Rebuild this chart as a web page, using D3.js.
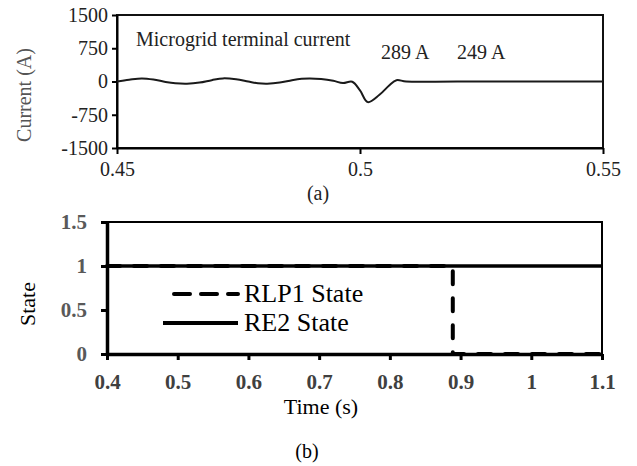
<!DOCTYPE html>
<html>
<head>
<meta charset="utf-8">
<script src="https://cdn.jsdelivr.net/npm/d3@7"></script>
<style>
  body { margin: 0; background: #fff; }
  svg, svg text { font-family: 'Liberation Serif', 'Times New Roman', serif; }
  .axis path, .axis line { stroke: #000; }
</style>
</head>
<body>
<div id="chart"></div>
<script>
// (a) microgrid terminal current
const currentTime = [0.4500, 0.4525, 0.4551, 0.4575, 0.4600, 0.4620, 0.4644, 0.4670, 0.4695, 0.4718,
  0.4745, 0.4770, 0.4790, 0.4809, 0.4835, 0.4860, 0.4880, 0.4897, 0.4920, 0.4945,
  0.4965, 0.4984, 0.5000, 0.5016, 0.5040, 0.5060, 0.5075, 0.5095, 0.5200, 0.5500];
const currentAmps = [0, 40, 70, 45, -10, -40, -50, -25, 30, 70,
  50, 0, -40, -50, -25, 30, 62, 70, 55, 15,
  -35, -5, -200, -465, -300, -90, 30, 0, 0, 0];
const currentTicks = [-1500, -750, 0, 750, 1500];
const currentTimeTicks = [0.45, 0.5, 0.55];
const annotations = ['289 A', '249 A'];

// (b) states
const stateTicks = [0, 0.5, 1, 1.5];
const stateTimeTicks = [0.4, 0.5, 0.6, 0.7, 0.8, 0.9, 1, 1.1];
const rlp1Time = [0.4, 0.889, 0.889, 1.1];
const rlp1State = [1, 1, 0, 0];
const re2Time = [0.4, 1.1];
const re2State = [1, 1];
const legendNames = ['RLP1 State', 'RE2 State'];

const serif = "'Liberation Serif', 'Times New Roman', serif";
const plain = d => String(d);

const svg = d3.select('#chart').append('svg')
  .attr('width', 637)
  .attr('height', 466);

// ---------- top chart ----------
const xA = d3.scaleLinear().domain([0.45, 0.55]).range([117, 603]);
const yA = d3.scaleLinear().domain([-1500, 1500]).range([148, 15]);

svg.append('rect')
  .attr('x', xA(0.45)).attr('y', yA(1500))
  .attr('width', xA(0.55) - xA(0.45)).attr('height', yA(-1500) - yA(1500))
  .attr('fill', 'none').attr('stroke', '#111').attr('stroke-width', 2);

const yAxisA = svg.append('g')
  .attr('class', 'axis')
  .attr('transform', `translate(${xA(0.45)},0)`)
  .call(d3.axisLeft(yA).tickValues(currentTicks).tickFormat(plain).tickSize(5).tickSizeOuter(0).tickPadding(4))
  .attr('font-family', serif).attr('font-size', 20);
yAxisA.selectAll('path, line').attr('stroke-width', 2);
yAxisA.selectAll('text').attr('fill', '#222');

const xAxisA = svg.append('g')
  .attr('class', 'axis')
  .attr('transform', `translate(0,${yA(-1500)})`)
  .call(d3.axisBottom(xA).tickValues(currentTimeTicks).tickFormat(plain).tickSize(6).tickSizeOuter(0).tickPadding(8))
  .attr('font-family', serif).attr('font-size', 20);
xAxisA.selectAll('path, line').attr('stroke-width', 2);
xAxisA.selectAll('text').attr('fill', '#222');

const lineA = d3.line()
  .x((d, i) => xA(currentTime[i]))
  .y(d => yA(d))
  .curve(d3.curveCatmullRom);

svg.append('path')
  .datum(currentAmps)
  .attr('d', lineA)
  .attr('fill', 'none')
  .attr('stroke', '#1a1a1a')
  .attr('stroke-width', 2);

svg.append('text')
  .attr('x', 136).attr('y', 46)
  .attr('font-size', 20).attr('fill', '#222')
  .text('Microgrid terminal current');

svg.selectAll('.note')
  .data(annotations)
  .enter().append('text')
  .attr('class', 'note')
  .attr('x', (d, i) => [381, 457][i]).attr('y', 59)
  .attr('font-size', 20).attr('fill', '#222')
  .text(d => d);

svg.append('text')
  .attr('transform', 'translate(31,95) rotate(-90)')
  .attr('text-anchor', 'middle')
  .attr('font-size', 20).attr('fill', '#555')
  .text('Current (A)');

svg.append('text')
  .attr('x', 318).attr('y', 200)
  .attr('text-anchor', 'middle')
  .attr('font-size', 20).attr('fill', '#222')
  .text('(a)');

// ---------- bottom chart ----------
const xB = d3.scaleLinear().domain([0.4, 1.1]).range([107, 602]);
const yB = d3.scaleLinear().domain([0, 1.5]).range([354, 222]);

svg.append('rect')
  .attr('x', xB(0.4)).attr('y', yB(1.5))
  .attr('width', xB(1.1) - xB(0.4)).attr('height', yB(0) - yB(1.5))
  .attr('fill', 'none').attr('stroke', '#000').attr('stroke-width', 2);

const lineB = d3.line().x(d => xB(d[0])).y(d => yB(d[1]));

svg.append('path')
  .datum(re2Time.map((t, i) => [t, re2State[i]]))
  .attr('d', lineB)
  .attr('fill', 'none').attr('stroke', '#000').attr('stroke-width', 3.5);

svg.append('path')
  .datum(rlp1Time.map((t, i) => [t, rlp1State[i]]))
  .attr('d', lineB)
  .attr('fill', 'none').attr('stroke', '#000').attr('stroke-width', 4)
  .attr('stroke-linecap', 'round')
  .attr('stroke-dasharray', '13,14');

const yAxisB = svg.append('g')
  .attr('class', 'axis')
  .attr('transform', `translate(${xB(0.4)},0)`)
  .call(d3.axisLeft(yB).tickValues(stateTicks).tickFormat(plain).tickSize(6).tickSizeOuter(0).tickPadding(14))
  .attr('font-family', serif).attr('font-size', 21).attr('font-weight', 'bold');
yAxisB.select('path').attr('stroke-width', 3.5);
yAxisB.selectAll('line').attr('stroke-width', 3);
yAxisB.selectAll('text').attr('fill', '#595959');

const xAxisB = svg.append('g')
  .attr('class', 'axis')
  .attr('transform', `translate(0,${yB(0)})`)
  .call(d3.axisBottom(xB).tickValues(stateTimeTicks).tickFormat(plain).tickSize(6).tickSizeOuter(0).tickPadding(14))
  .attr('font-family', serif).attr('font-size', 21).attr('font-weight', 'bold');
xAxisB.select('path').attr('stroke-width', 3.5);
xAxisB.selectAll('line').attr('stroke-width', 3);
xAxisB.selectAll('text').attr('fill', '#404040');

// legend
const legend = svg.append('g');
const legendY = [294, 323];
legend.selectAll('line')
  .data(legendNames)
  .enter().append('line')
  .attr('x1', (d, i) => i === 0 ? 174 : 163).attr('x2', 238)
  .attr('y1', (d, i) => legendY[i]).attr('y2', (d, i) => legendY[i])
  .attr('stroke', '#000').attr('stroke-width', 4)
  .attr('stroke-linecap', (d, i) => i === 0 ? 'round' : 'butt')
  .attr('stroke-dasharray', (d, i) => i === 0 ? '16,11' : null);
legend.selectAll('text')
  .data(legendNames)
  .enter().append('text')
  .attr('x', 244).attr('y', (d, i) => legendY[i] + 8)
  .attr('font-size', 26).attr('fill', '#000')
  .text(d => d);

svg.append('text')
  .attr('x', 321).attr('y', 414)
  .attr('text-anchor', 'middle')
  .attr('font-size', 22).attr('fill', '#000')
  .text('Time (s)');

svg.append('text')
  .attr('transform', 'translate(35,304) rotate(-90)')
  .attr('text-anchor', 'middle')
  .attr('font-size', 22).attr('fill', '#000')
  .text('State');

svg.append('text')
  .attr('x', 307).attr('y', 458)
  .attr('text-anchor', 'middle')
  .attr('font-size', 20).attr('fill', '#000')
  .text('(b)');
</script>
</body>
</html>
